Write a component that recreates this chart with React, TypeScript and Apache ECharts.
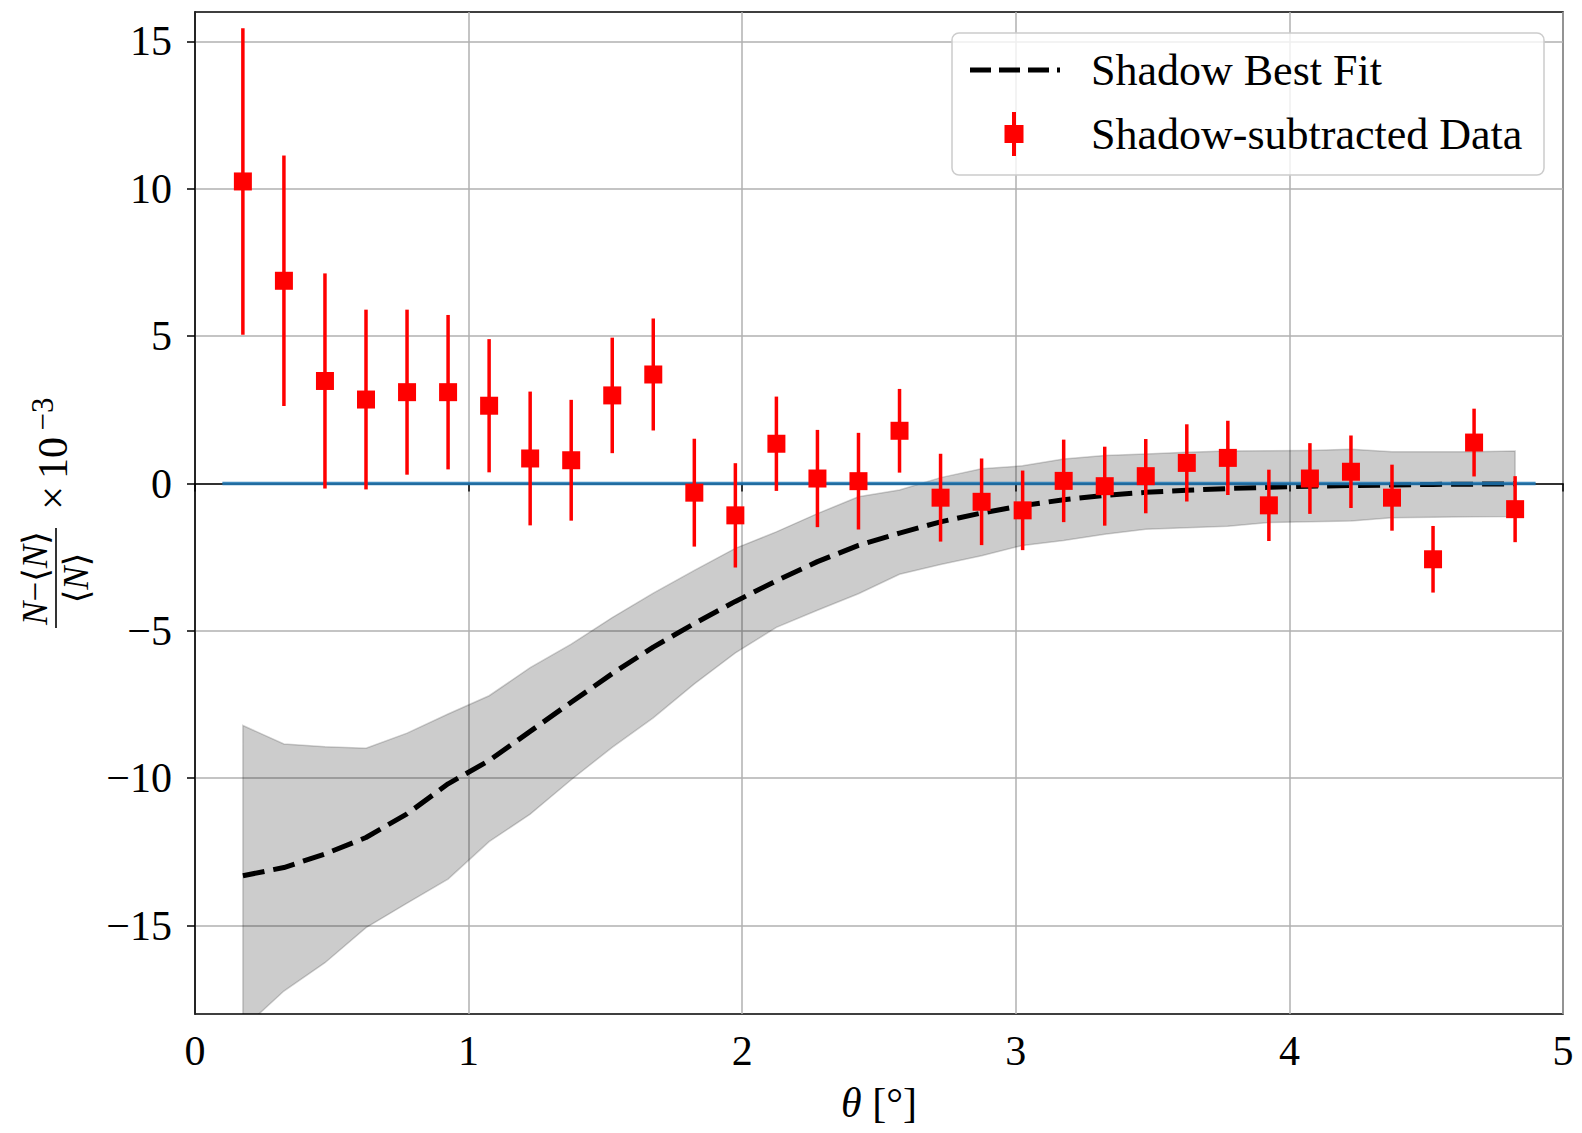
import React, { useEffect, useRef } from "react";
import * as echarts from "echarts";

// ---- data ----
const theta = [
  0.175, 0.325, 0.475, 0.625, 0.775, 0.925, 1.075, 1.225, 1.375, 1.525, 1.675,
  1.825, 1.975, 2.125, 2.275, 2.425, 2.575, 2.725, 2.875, 3.025, 3.175, 3.325,
  3.475, 3.625, 3.775, 3.925, 4.075, 4.225, 4.375, 4.525, 4.675, 4.825,
];
const dataValues = [
  10.25, 6.88, 3.48, 2.85, 3.1, 3.1, 2.64, 0.85, 0.79, 2.99, 3.7, -0.31, -1.08,
  1.35, 0.17, 0.08, 1.79, -0.48, -0.62, -0.91, 0.09, -0.09, 0.25, 0.7, 0.87,
  -0.74, 0.17, 0.4, -0.48, -2.57, 1.39, -0.87,
];
const dataErrors = [
  5.2, 4.25, 3.65, 3.05, 2.8, 2.62, 2.26, 2.27, 2.05, 1.96, 1.9, 1.83, 1.77,
  1.6, 1.65, 1.64, 1.42, 1.49, 1.47, 1.35, 1.4, 1.34, 1.26, 1.31, 1.26, 1.21,
  1.2, 1.23, 1.12, 1.13, 1.15, 1.12,
];
const fitValues = [
  -13.31, -13.03, -12.57, -12.01, -11.21, -10.19, -9.4, -8.41, -7.42, -6.45,
  -5.55, -4.75, -4.0, -3.3, -2.65, -2.1, -1.68, -1.3, -1.0, -0.75, -0.55, -0.4,
  -0.3, -0.23, -0.17, -0.13, -0.09, -0.07, -0.05, -0.03, -0.02, -0.01,
];
const bandUpper = [
  -8.21, -8.84, -8.93, -8.98, -8.47, -7.82, -7.2, -6.25, -5.45, -4.55, -3.72,
  -2.95, -2.2, -1.64, -1.02, -0.45, -0.22, 0.2, 0.5, 0.6, 0.83, 0.95, 1.0, 1.06,
  1.1, 1.11, 1.12, 1.16, 1.08, 1.08, 1.08, 1.1,
];
const bandLower = [
  -18.5, -17.22, -16.26, -15.07, -14.24, -13.42, -12.15, -11.22, -10.05, -8.95,
  -7.95, -6.8, -5.75, -4.88, -4.3, -3.74, -3.08, -2.75, -2.45, -2.1, -1.93,
  -1.72, -1.55, -1.5, -1.45, -1.32, -1.3, -1.27, -1.16, -1.14, -1.13, -1.12,
];
const zeroLineX = [0.1, 4.9];
const yTickValues = [-15, -10, -5, 0, 5, 10, 15];
const seriesNames = ["Shadow Best Fit", "Shadow-subtracted Data"];

const FONT = "Liberation Serif, DejaVu Serif, serif";
const RED = "#ff0000";

const dashIcon =
  "path://M0,0H21V5H0Z M29,0H50V5H29Z M58,0H79V5H58Z M87,0H90V5H87Z M115,2.5L116,2.5";
const errIcon =
  "path://M0,22L1,22 M42,0H46V44H42Z M34.5,13H53.5V31H34.5Z M115,22L116,22";

export default function App() {
  const ref = useRef<HTMLDivElement>(null);

  useEffect(() => {
    if (!ref.current) return;
    const chart = echarts.init(ref.current, undefined, { renderer: "svg" });

    const bandData = theta.map((t, i) => [t, bandLower[i], bandUpper[i]]);
    const fitData = theta.map((t, i) => [t, fitValues[i]]);
    const errData = theta.map((t, i) => [t, dataValues[i], dataErrors[i]]);
    const zeroData = zeroLineX.map((x) => [x, 0]);

    const option: any = {
      animation: false,
      backgroundColor: "#ffffff",
      textStyle: { fontFamily: FONT },
      grid: {
        left: 195,
        right: 19,
        top: 12,
        bottom: 119,
        show: true,
        borderColor: "#000",
        borderWidth: 1.5,
        backgroundColor: "transparent",
        containLabel: false,
      },
      xAxis: {
        type: "value",
        min: 0,
        max: 5,
        interval: 1,
        name: "{i|θ} [°]",
        nameLocation: "middle",
        nameGap: 68,
        nameTextStyle: {
          fontSize: 42,
          fontFamily: FONT,
          color: "#000",
          rich: { i: { fontStyle: "italic", fontSize: 42, fontFamily: FONT, color: "#000" } },
        },
        axisLine: { show: true, lineStyle: { color: "#000", width: 1.5 } },
        axisTick: { show: true, length: 8, inside: false, lineStyle: { color: "#000", width: 1.5 } },
        axisLabel: {
          fontSize: 42,
          fontFamily: FONT,
          color: "#000",
          margin: 16,
          formatter: (v: number) => String(v),
        },
        splitLine: { show: true, lineStyle: { color: "#b0b0b0", width: 1.5 } },
      },
      yAxis: {
        type: "value",
        min: -18,
        max: 16,
        splitNumber: 7,
        axisLine: { show: true, lineStyle: { color: "#000", width: 1.5 } },
        axisTick: {
          show: true,
          length: 8,
          inside: false,
          lineStyle: { color: "#000", width: 1.5 },
          customValues: yTickValues,
        },
        axisLabel: {
          fontSize: 42,
          fontFamily: FONT,
          color: "#000",
          margin: 23,
          customValues: yTickValues,
          formatter: (v: number) => String(v).replace("-", "\u2212"),
        },
        splitLine: { show: true, lineStyle: { color: "#b0b0b0", width: 1.5 } },
      },
      legend: {
        show: true,
        orient: "vertical",
        left: 970,
        top: 48,
        padding: 0,
        itemWidth: 116,
        itemHeight: 44,
        itemGap: 20,
        selectedMode: false,
        z: 20,
        textStyle: { fontSize: 44, fontFamily: FONT, color: "#000", lineHeight: 44 },
        data: [
          { name: seriesNames[0], icon: dashIcon, itemStyle: { color: "#000", borderWidth: 0 } },
          { name: seriesNames[1], icon: errIcon, itemStyle: { color: RED, borderWidth: 0 } },
        ],
      },
      graphic: [
        {
          type: "rect",
          z: 10,
          shape: { x: 952, y: 33, width: 592, height: 142, r: 7 },
          style: { fill: "rgba(255,255,255,0.8)", stroke: "#cccccc", lineWidth: 1.5 },
        },
        {
          type: "group",
          x: 56,
          y: 578,
          rotation: Math.PI / 2,
          children: [
            {
              type: "line",
              shape: { x1: -50, y1: 0, x2: 50, y2: 0 },
              style: { stroke: "#000", lineWidth: 1.6 },
            },
            {
              type: "text",
              x: 0,
              y: -3,
              style: {
                text: "{i|N}\u2212\u27E8{i|N}\u27E9",
                fontSize: 35,
                fontFamily: FONT,
                fill: "#000",
                align: "center",
                textAlign: "center",
                verticalAlign: "bottom",
                textVerticalAlign: "bottom",
                rich: { i: { fontStyle: "italic", fontSize: 35, fontFamily: FONT } },
              },
            },
            {
              type: "text",
              x: 0,
              y: 3,
              style: {
                text: "\u27E8{i|N}\u27E9",
                fontSize: 35,
                fontFamily: FONT,
                fill: "#000",
                align: "center",
                textAlign: "center",
                verticalAlign: "top",
                textVerticalAlign: "top",
                rich: { i: { fontStyle: "italic", fontSize: 35, fontFamily: FONT } },
              },
            },
            {
              type: "text",
              x: 80,
              y: -3,
              style: {
                text: "\u00D7",
                fontSize: 42,
                fontFamily: FONT,
                fill: "#000",
                align: "center",
                textAlign: "center",
                verticalAlign: "middle",
                textVerticalAlign: "middle",
              },
            },
            {
              type: "text",
              x: 120,
              y: -3,
              style: {
                text: "10",
                fontSize: 42,
                fontFamily: FONT,
                fill: "#000",
                align: "center",
                textAlign: "center",
                verticalAlign: "middle",
                textVerticalAlign: "middle",
              },
            },
            {
              type: "text",
              x: 164,
              y: -14,
              style: {
                text: "\u22123",
                fontSize: 31,
                fontFamily: FONT,
                fill: "#000",
                align: "center",
                textAlign: "center",
                verticalAlign: "middle",
                textVerticalAlign: "middle",
              },
            },
          ],
        },
      ],
      series: [
        {
          name: "band",
          type: "custom",
          clip: true,
          encode: { x: 0, y: [1, 2] },
          data: bandData,
          silent: true,
          renderItem: (params: any, api: any) => {
            if (params.dataIndex !== 0) return null;
            const pts: number[][] = [];
            for (let i = 0; i < theta.length; i++) pts.push(api.coord([theta[i], bandUpper[i]]));
            for (let i = theta.length - 1; i >= 0; i--) pts.push(api.coord([theta[i], bandLower[i]]));
            return {
              type: "polygon",
              shape: { points: pts },
              style: { fill: "rgba(0,0,0,0.2)", stroke: "rgba(0,0,0,0.18)", lineWidth: 1.5 },
            };
          },
        },
        {
          name: seriesNames[0],
          type: "line",
          data: fitData,
          showSymbol: false,
          symbol: "none",
          color: "#000",
          itemStyle: { color: "#000" },
          lineStyle: { color: "#000", width: 5, type: [22, 9] },
          z: 3,
        },
        {
          name: "zero",
          type: "line",
          data: zeroData,
          showSymbol: false,
          symbol: "none",
          lineStyle: { color: "#1f77b4", width: 3.4, opacity: 0.85 },
          z: 4,
        },
        {
          name: seriesNames[1],
          type: "custom",
          clip: true,
          color: RED,
          itemStyle: { color: RED },
          encode: { x: 0, y: 1 },
          data: errData,
          z: 5,
          renderItem: (params: any, api: any) => {
            const x = api.value(0);
            const y = api.value(1);
            const e = api.value(2);
            const top = api.coord([x, y + e]);
            const bot = api.coord([x, y - e]);
            const c = api.coord([x, y]);
            return {
              type: "group",
              children: [
                {
                  type: "line",
                  shape: { x1: top[0], y1: top[1], x2: bot[0], y2: bot[1] },
                  style: { stroke: RED, lineWidth: 3.5 },
                },
                {
                  type: "rect",
                  shape: { x: c[0] - 9, y: c[1] - 9, width: 18, height: 18 },
                  style: { fill: RED },
                },
              ],
            };
          },
        },
      ],
    };

    chart.setOption(option);
    return () => chart.dispose();
  }, []);

  return (
    <div
      ref={ref}
      style={{ position: "absolute", left: 0, top: 0, width: 1582, height: 1133, background: "#fff" }}
    />
  );
}
